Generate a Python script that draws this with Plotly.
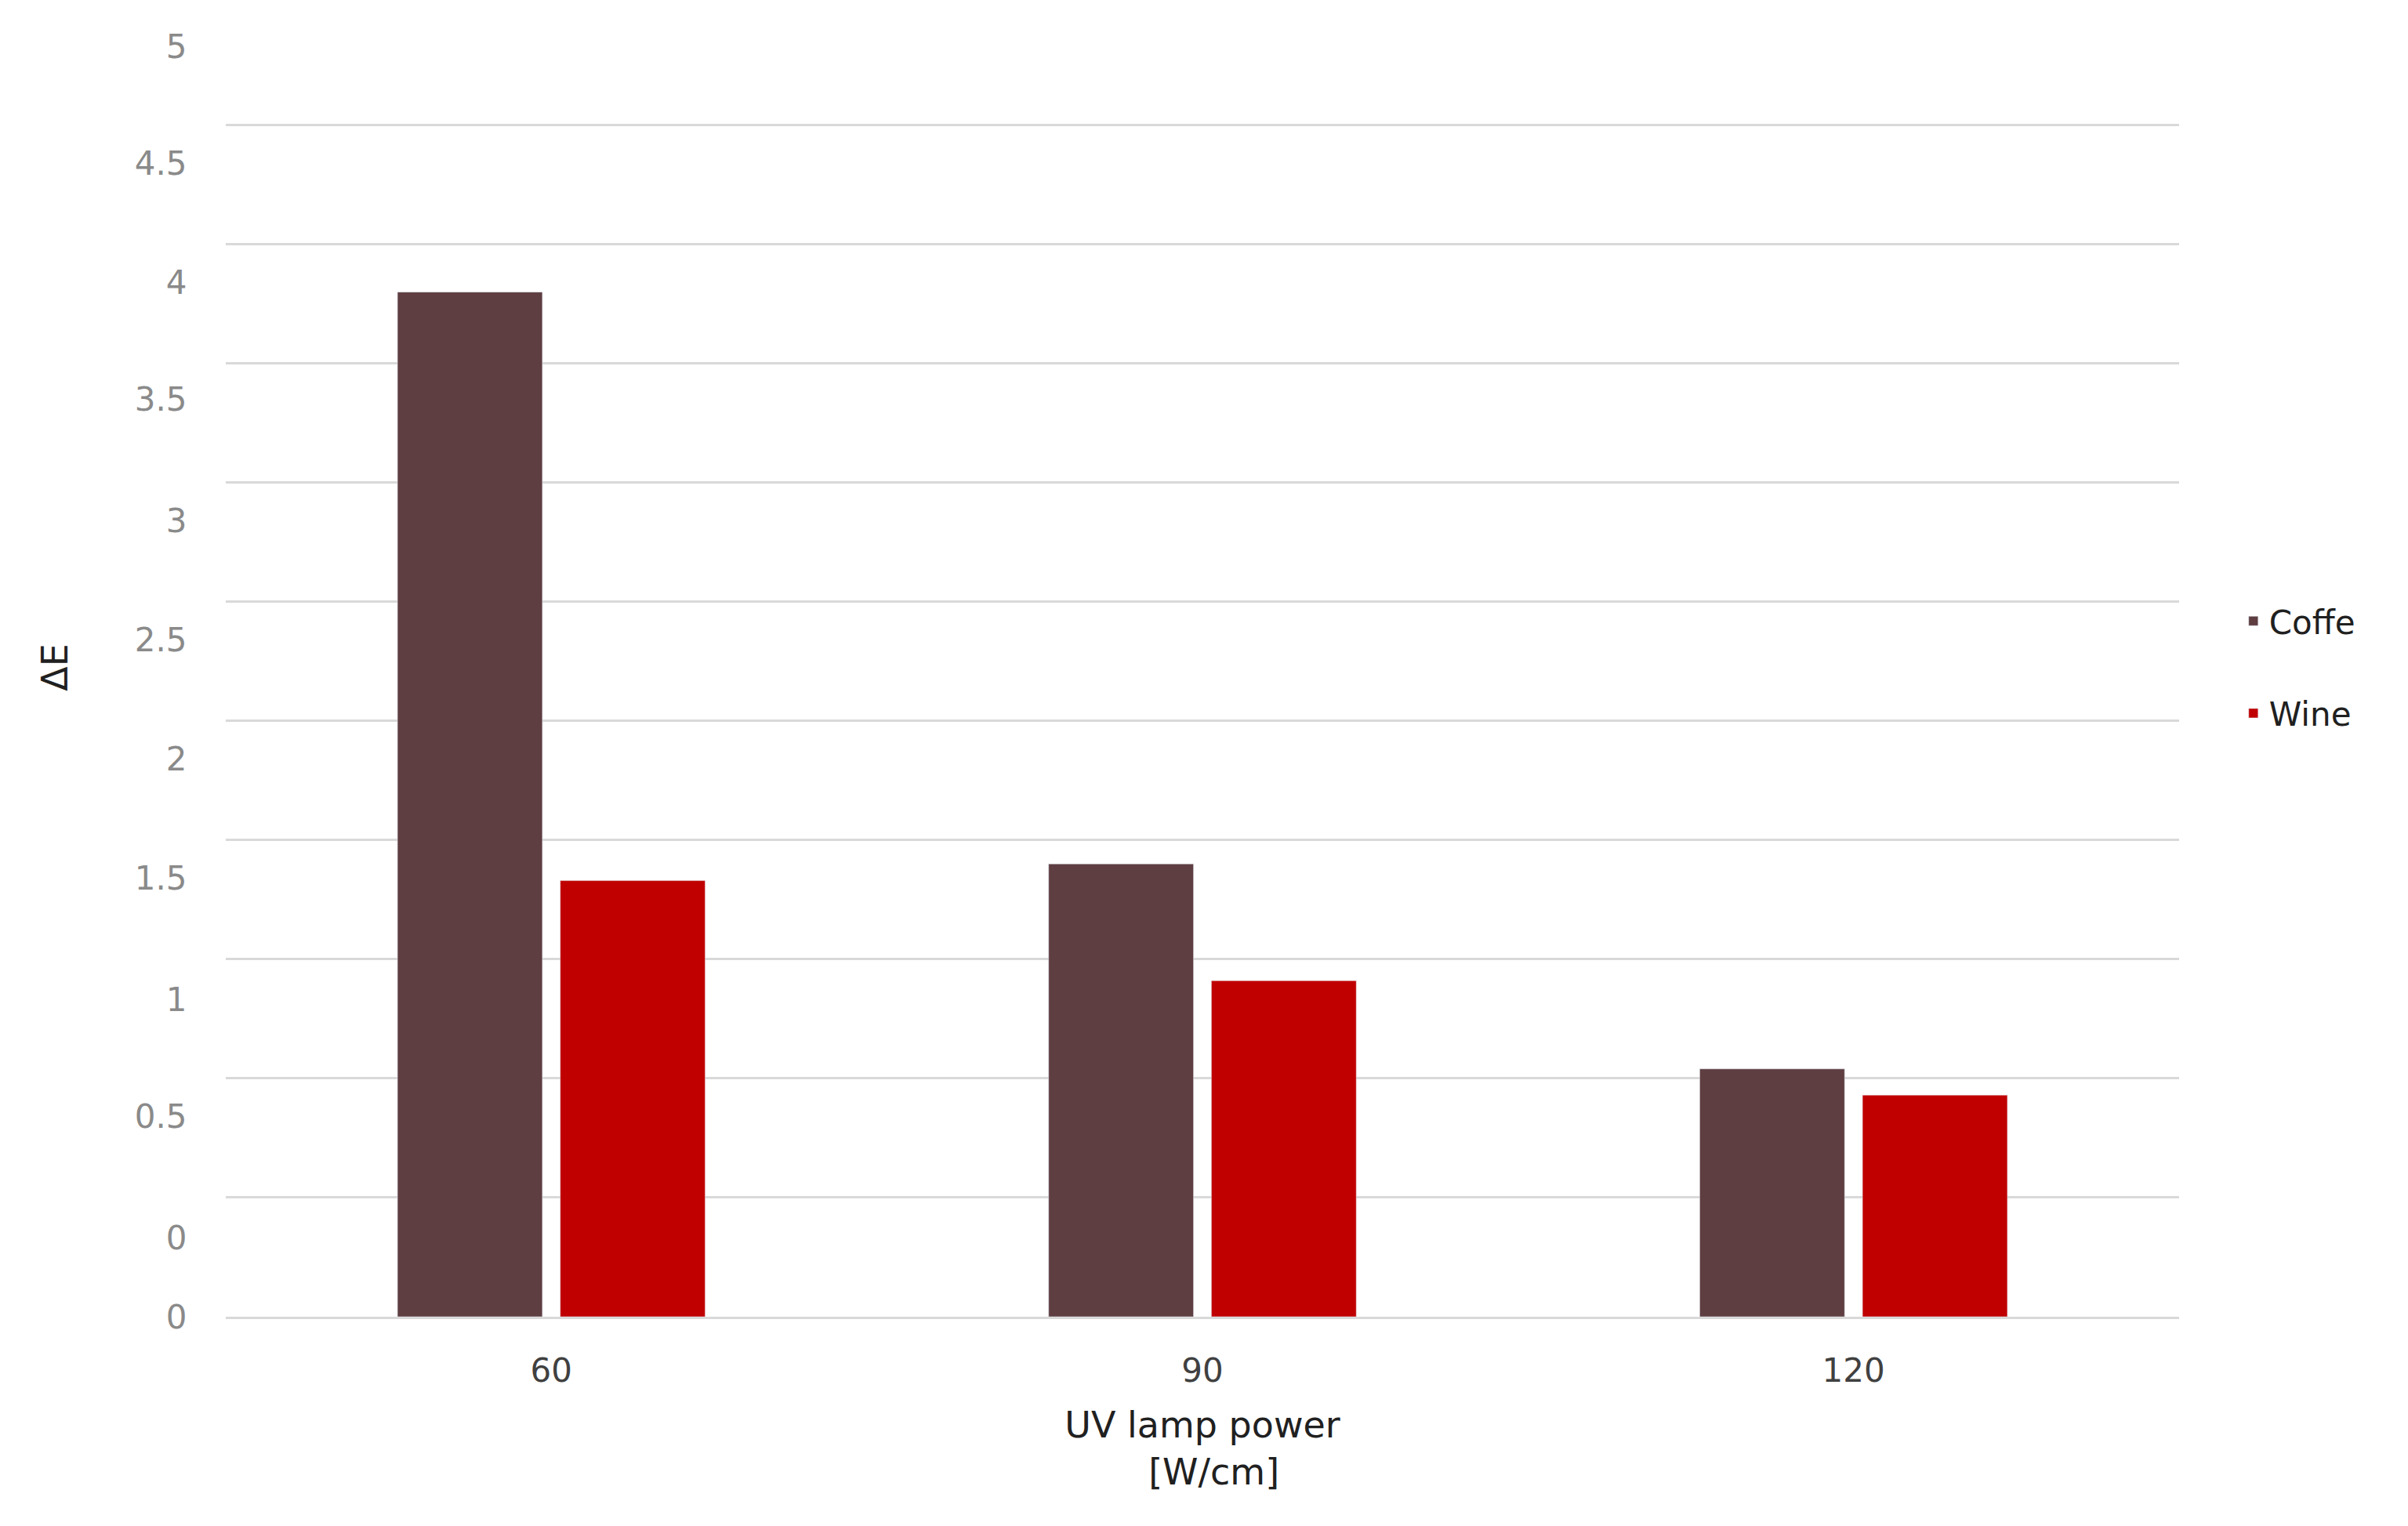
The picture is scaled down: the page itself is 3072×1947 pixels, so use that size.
import plotly.graph_objects as go

power = ["60", "90", "120"]
coffe = [4.3, 1.9, 1.04]
wine = [1.83, 1.41, 0.93]

# tick labels as printed on the original (they sit offset from the gridlines)
tick_pos = [0, 0.33, 0.84, 1.33, 1.84, 2.34, 2.84, 3.34, 3.85, 4.34, 4.84, 5.33]
tick_txt = ["0", "0", "0.5", "1", "1.5", "2", "2.5", "3", "3.5", "4", "4.5", "5"]

fig = go.Figure()
fig.add_trace(go.Bar(x=power, y=coffe, name="Coffe", marker_color="#5E3E41", legendgroup="c"))
fig.add_trace(go.Bar(x=power, y=wine, name="Wine", marker_color="#C00000", legendgroup="w"))

fig.update_layout(
    barmode="group",
    bargap=0.5,
    bargroupgap=0.11,
    width=3072, height=1947,
    margin=dict(l=280, r=300, t=15, b=275),
    paper_bgcolor="white",
    plot_bgcolor="white",
    font=dict(family="DejaVu Sans", color="#404040", size=42),
    legend=dict(x=1.03, y=0.5, xanchor="left", yanchor="middle",
                font=dict(size=42, color="#202020"), tracegroupgap=60),
    xaxis=dict(
        title=dict(text="UV lamp power<br>  [W/cm]", font=dict(size=46, color="#202020"), standoff=30),
        tickfont=dict(size=42, color="#404040"),
        ticks="outside", ticklen=30, tickcolor="rgba(0,0,0,0)",
        showline=True, linecolor="#d9d9d9", linewidth=3,
    ),
    yaxis=dict(
        title=dict(text="ΔE", font=dict(size=46, color="#202020"), standoff=70),
        range=[0, 5.45],
        tickvals=tick_pos, ticktext=tick_txt,
        tickfont=dict(size=42, color="#8a8a8a"),
        ticks="outside", ticklen=40, tickcolor="rgba(0,0,0,0)",
        showgrid=False, zeroline=False,
        minor=dict(tick0=0, dtick=0.5, showgrid=True, gridcolor="#d9d9d9", gridwidth=3, ticks=""),
    ),
)
fig.write_html("out.html")
